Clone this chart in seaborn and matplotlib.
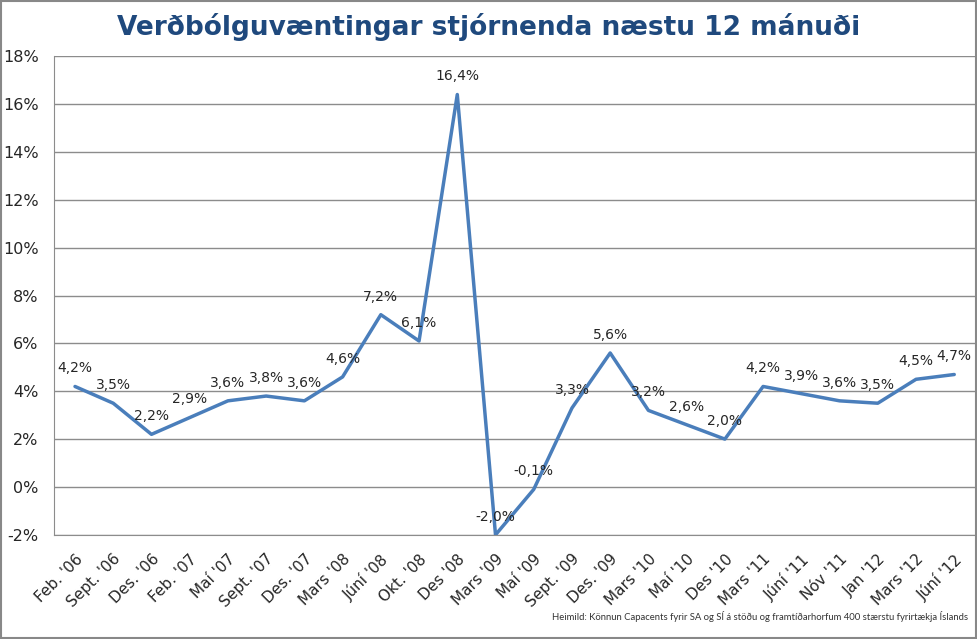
import pandas as pd
import numpy as np
import matplotlib.pyplot as plt
import seaborn as sns

# Verðbólguvæntingar stjórnenda
dates = ["Feb. '06", "Sept. '06", "Des. '06", "Feb. '07", "Maí '07", "Sept. '07",
         "Des. '07", "Mars '08", "Júní '08", "Okt. '08", "Des '08", "Mars '09",
         "Maí '09", "Sept. '09", "Des. '09", "Mars '10", "Maí '10", "Des '10",
         "Mars '11", "Júní '11", "Nóv '11", "Jan '12", "Mars '12", "Júní '12"]
expectations = [4.2, 3.5, 2.2, 2.9, 3.6, 3.8, 3.6, 4.6, 7.2, 6.1, 16.4, -2.0,
                 -0.1, 3.3, 5.6, 3.2, 2.6, 2.0, 4.2, 3.9, 3.6, 3.5, 4.5, 4.7]

df = pd.DataFrame({'Dags': dates, 'Vaentingar': expectations})
df['pos'] = np.arange(len(df))

sns.set_style('white')
plt.rcParams['font.family'] = ['DejaVu Sans']

fig = plt.figure(figsize=(9.78, 6.39), dpi=100)
ax = fig.add_axes([0.0552, 0.163, 0.942, 0.749])

sns.lineplot(data=df, x='pos', y='Vaentingar', ax=ax, color='#4A7EBB', linewidth=2.5)

for i, v in zip(df['pos'], df['Vaentingar']):
    ax.annotate(f"{v:.1f}%".replace('.', ','), (i, v), xytext=(0, 8),
                textcoords='offset points', ha='center', va='bottom', fontsize=10)

ax.set_ylim(-2, 18)
ax.set_yticks(np.arange(-2, 19, 2))
ax.set_yticklabels([f"{t}%" for t in range(-2, 19, 2)], fontsize=11.5)
ax.set_xlim(-0.55, len(df) - 0.45)
ax.set_xticks(df['pos'])
ax.set_xticklabels(df['Dags'], rotation=45, ha='right', rotation_mode='anchor', fontsize=11)
ax.tick_params(axis='y', length=0, pad=11)
ax.tick_params(axis='x', length=0, pad=12)
ax.grid(axis='y', color='#8c8c8c', linewidth=1)
ax.set_xlabel('')
ax.set_ylabel('')
for s in ['top', 'right']:
    ax.spines[s].set_visible(False)
ax.spines['left'].set_color('#8c8c8c')
ax.spines['bottom'].set_color('#8c8c8c')

fig.text(0.5, 0.958, "Verðbólguvæntingar stjórnenda næstu 12 mánuði", ha='center', va='center',
         fontsize=19, fontweight='bold', color='#1F497D')
fig.text(0.99, 0.035, "Heimild: Könnun Capacents fyrir SA og SÍ á stöðu og framtíðarhorfum 400 stærstu fyrirtækja Íslands",
         ha='right', va='center', fontsize=6.8, family='Lato', color='#333333')

fig.patches.append(plt.Rectangle((0.001, 0.002), 0.997, 0.996, transform=fig.transFigure,
                                 fill=False, edgecolor='#888888', linewidth=1.5))

fig.savefig('out.png', dpi=100)
